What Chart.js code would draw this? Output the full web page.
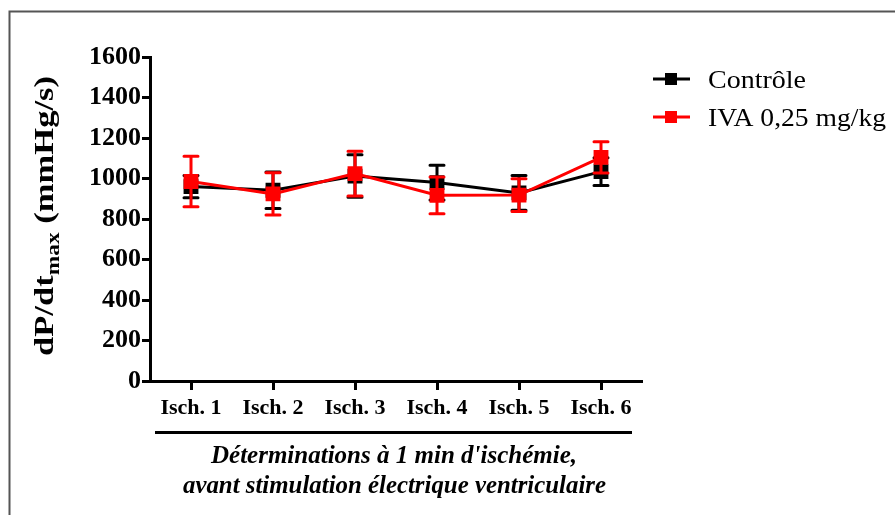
<!DOCTYPE html>
<html><head><meta charset="utf-8">
<script src="https://cdn.jsdelivr.net/npm/chart.js@4"></script>
<style>html,body{margin:0;padding:0;background:#fff;overflow:hidden}#wrap{position:relative;width:895px;height:515px}</style>
</head><body><div id="wrap"><canvas id="c" width="895" height="515"></canvas></div>
<script>
const categories = ['Isch. 1', 'Isch. 2', 'Isch. 3', 'Isch. 4', 'Isch. 5', 'Isch. 6'];
const controleMean = [960, 942, 1012, 980, 929, 1034];
const controleSem = [55, 90, 105, 86, 86, 68];
const ivaMean = [985, 924, 1024, 917, 918, 1104];
const ivaSem = [125, 104, 110, 91, 81, 77];
const yTicks = [0, 200, 400, 600, 800, 1000, 1200, 1400, 1600];
const seriesNames = ['Contrôle', 'IVA 0,25 mg/kg'];
const seriesColors = ['#000000', '#ff0000'];
const yTitleParts = ['dP/dt', 'max', ' (mmHg/s)'];
const xTitleLines = ["Déterminations à 1 min d'ischémie,", 'avant stimulation électrique ventriculaire'];

const SERIF = '"Liberation Serif", "Times New Roman", serif';
const errs = [controleSem, ivaSem];

const errorBarPlugin = {
  id: 'errorBars',
  beforeDatasetDraw(chart, args) {
    const ds = chart.data.datasets[args.index];
    const sem = errs[ds.semIndex];
    const ys = chart.scales.y;
    const ctx = chart.ctx;
    ctx.save();
    ctx.strokeStyle = ds.borderColor;
    ctx.lineWidth = 3;
    ctx.lineCap = 'round';
    args.meta.data.forEach((pt, i) => {
      const v = ds.data[i];
      const yt = ys.getPixelForValue(v + sem[i]);
      const yb = ys.getPixelForValue(v - sem[i]);
      const x = pt.x;
      ctx.beginPath();
      ctx.moveTo(x, yt); ctx.lineTo(x, yb);
      ctx.moveTo(x - 7, yt); ctx.lineTo(x + 7, yt);
      ctx.moveTo(x - 7, yb); ctx.lineTo(x + 7, yb);
      ctx.stroke();
    });
    ctx.restore();
  }
};

function drawFitted(ctx, text, x, y, targetW, align) {
  const w = ctx.measureText(text).width;
  const s = targetW / w;
  ctx.save();
  ctx.translate(x, y);
  ctx.scale(s, 1);
  ctx.textAlign = align || 'center';
  ctx.fillText(text, 0, 0);
  ctx.restore();
}

const decorPlugin = {
  id: 'decor',
  afterDraw(chart) {
    const ctx = chart.ctx;
    ctx.save();
    // frame
    ctx.strokeStyle = '#555';
    ctx.lineWidth = 2;
    ctx.beginPath();
    ctx.moveTo(9.5, 520); ctx.lineTo(9.5, 11.5); ctx.lineTo(900, 11.5);
    ctx.stroke();
    // underline below categories
    ctx.strokeStyle = '#000';
    ctx.lineWidth = 3;
    ctx.beginPath();
    ctx.moveTo(155, 432.5); ctx.lineTo(632, 432.5);
    ctx.stroke();
    // x title
    ctx.fillStyle = '#000';
    ctx.textBaseline = 'alphabetic';
    ctx.font = 'italic bold 25px ' + SERIF;
    drawFitted(ctx, xTitleLines[0], 394, 463, 366);
    drawFitted(ctx, xTitleLines[1], 394.5, 493, 423);
    // y title (rotated)
    ctx.save();
    ctx.translate(53, 356);
    ctx.rotate(-Math.PI / 2);
    const fMain = 'bold 28px ' + SERIF, fSub = 'bold 19px ' + SERIF;
    ctx.font = fMain; const w1 = ctx.measureText(yTitleParts[0]).width;
    ctx.font = fSub; const w2 = ctx.measureText(yTitleParts[1]).width;
    ctx.font = fMain; const w3 = ctx.measureText(yTitleParts[2]).width;
    const s = 280 / (w1 + w2 + w3);
    ctx.scale(s, 1);
    ctx.textAlign = 'left';
    ctx.font = fMain; ctx.fillText(yTitleParts[0], 0, 0);
    ctx.font = fSub; ctx.fillText(yTitleParts[1], w1, 6);
    ctx.font = fMain; ctx.fillText(yTitleParts[2], w1 + w2, 0);
    ctx.restore();
    // legend
    const ly = [79, 117];
    ctx.font = '26px ' + SERIF;
    seriesNames.forEach((name, i) => {
      ctx.strokeStyle = seriesColors[i];
      ctx.fillStyle = seriesColors[i];
      ctx.lineWidth = 3;
      ctx.beginPath(); ctx.moveTo(653, ly[i]); ctx.lineTo(690, ly[i]); ctx.stroke();
      ctx.fillRect(665, ly[i] - 6, 12, 12);
      ctx.fillStyle = '#000';
      ctx.textBaseline = 'alphabetic';
      const tw = i === 0 ? 98 : 178;
      drawFitted(ctx, name, 708, ly[i] + 9, tw, 'left');
    });
    ctx.restore();
  }
};

const ctx = document.getElementById('c').getContext('2d');
new Chart(ctx, {
  type: 'line',
  data: {
    labels: categories,
    datasets: [
      { label: seriesNames[0], data: controleMean, semIndex: 0, borderColor: seriesColors[0], backgroundColor: seriesColors[0],
        borderWidth: 3, pointStyle: 'rect', pointRadius: 10.5, pointBorderWidth: 0, tension: 0, order: 2 },
      { label: seriesNames[1], data: ivaMean, semIndex: 1, borderColor: seriesColors[1], backgroundColor: seriesColors[1],
        borderWidth: 3, pointStyle: 'rect', pointRadius: 10.5, pointBorderWidth: 0, tension: 0, order: 1 }
    ]
  },
  options: {
    responsive: false,
    devicePixelRatio: 1,
    animation: false,
    layout: { padding: { left: 0, top: 57, right: 253, bottom: 0 } },
    plugins: { legend: { display: false }, tooltip: { enabled: false } },
    scales: {
      x: {
        type: 'category',
        offset: true,
        afterFit(scale) { scale.height = 134; },
        border: { display: true, color: '#000', width: 3 },
        grid: { display: true, drawOnChartArea: false, drawTicks: true, tickLength: 9, tickWidth: 3, tickColor: '#000', offset: false },
        ticks: { color: '#000', font: { family: SERIF, size: 22, weight: 'bold' }, padding: 5, maxRotation: 0, autoSkip: false }
      },
      y: {
        min: 0, max: 1600,
        afterFit(scale) { scale.width = 150; },
        afterBuildTicks(scale) { scale.ticks = yTicks.map(v => ({ value: v })); },
        border: { display: true, color: '#000', width: 3 },
        grid: { display: true, drawOnChartArea: false, drawTicks: true, tickLength: 8, tickWidth: 3, tickColor: '#000' },
        ticks: { color: '#000', font: { family: SERIF, size: 26, weight: 'bold' }, padding: 1, callback: v => String(v) }
      }
    }
  },
  plugins: [errorBarPlugin, decorPlugin]
});
</script>
</body></html>
